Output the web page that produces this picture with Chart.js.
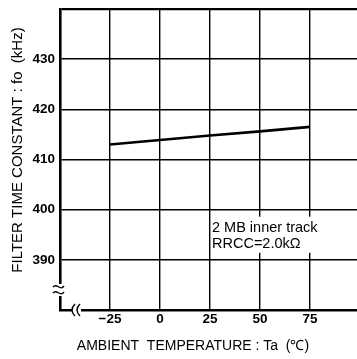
<!DOCTYPE html>
<html><head><meta charset="utf-8">
<script src="https://cdn.jsdelivr.net/npm/chart.js@4/dist/chart.umd.min.js"></script>
<style>html,body{margin:0;padding:0;background:#fff}#wrap{width:357px;height:359px}</style>
</head><body><div id="wrap"><canvas id="c" width="357" height="359"></canvas></div>
<script>
const temperatures = [-25, 0, 25, 50, 75];
const fcValues = [413.0, 413.9, 414.8, 415.6, 416.5];
const xTickValues = [-25, 0, 25, 50, 75];
const yTickValues = [390, 400, 410, 420, 430];
const noteLines = ['2 MB inner track', 'RRCC=2.0kΩ'];
const xTitle = 'AMBIENT  TEMPERATURE : Ta  (\u2103)';
const yTitle = 'FILTER TIME CONSTANT : fo  (kHz)';

const FONT = "'Liberation Sans', Arial, sans-serif";

const decor = {
  id: 'decor',
  afterDraw(chart) {
    const ctx = chart.ctx, x = chart.scales.x, y = chart.scales.y;
    const L = chart.chartArea.left, B = chart.chartArea.bottom;
    ctx.save();
    // white box behind annotation
    ctx.fillStyle = '#fff';
    const bx = x.getPixelForValue(25) + 2;
    ctx.fillRect(bx, y.getPixelForValue(398.6), 116, y.getPixelForValue(391.4) - y.getPixelForValue(398.6));
    // axis breaks
    ctx.fillRect(L - 3, 284, 6, 12);
    ctx.fillRect(72, B - 3, 9, 6);
    ctx.strokeStyle = '#000'; ctx.lineWidth = 1.4;
    for (const dy of [0, 6]) {
      ctx.beginPath();
      ctx.moveTo(L - 7, 287 + dy);
      ctx.bezierCurveTo(L - 3, 282 + dy, L + 0, 292 + dy, L + 4, 286 + dy);
      ctx.stroke();
    }
    for (const dx of [0, 5]) {
      ctx.beginPath();
      ctx.moveTo(75 + dx, B - 6);
      ctx.bezierCurveTo(71 + dx, B - 2, 71 + dx, B + 2, 75 + dx, B + 6);
      ctx.stroke();
    }
    // annotation
    ctx.fillStyle = '#000';
    ctx.font = '14.5px ' + FONT;
    ctx.textAlign = 'left'; ctx.textBaseline = 'middle';
    ctx.fillText(noteLines[0], bx, y.getPixelForValue(396.3));
    ctx.fillText(noteLines[1], bx, y.getPixelForValue(393.1));
    // titles
    ctx.font = '14px ' + FONT;
    ctx.textAlign = 'center';
    ctx.fillText(xTitle, 193, 346);
    ctx.translate(18, 150);
    ctx.rotate(-Math.PI / 2);
    ctx.font = '15px ' + FONT;
    ctx.fillText(yTitle, 0, 0);
    ctx.restore();
  }
};

new Chart(document.getElementById('c'), {
  type: 'line',
  data: {
    datasets: [{
      data: temperatures.map((t, i) => ({x: t, y: fcValues[i]})),
      borderColor: '#000', borderWidth: 2.6, pointRadius: 0, tension: 0, fill: false
    }]
  },
  options: {
    responsive: false, animation: false, devicePixelRatio: 1,
    layout: {padding: {top: 9, right: 0, left: 0, bottom: 0}},
    plugins: {legend: {display: false}, tooltip: {enabled: false}},
    scales: {
      x: {
        type: 'linear', min: -50, max: 98.5,
        afterBuildTicks(s) { s.ticks = [-50].concat(xTickValues).map(v => ({value: v})); },
        afterFit(s) { s.height = 49; s.paddingLeft = 0; s.paddingRight = 0; },
        grid: {color: '#000', lineWidth: 1.4, drawTicks: false},
        border: {color: '#000', width: 2.6},
        ticks: {
          padding: 1, color: '#000', font: {family: FONT, size: 13.5, weight: 'bold'},
          callback: v => xTickValues.includes(v) ? (v < 0 ? '\u2212' + Math.abs(v) : String(v)) : ''
        }
      },
      y: {
        type: 'linear', min: 380, max: 440,
        afterBuildTicks(s) { s.ticks = [380].concat(yTickValues, [440]).map(v => ({value: v})); },
        afterFit(s) { s.width = 60; s.paddingTop = 0; s.paddingBottom = 0; },
        grid: {color: '#000', lineWidth: c => c.tick && c.tick.value === 440 ? 2.2 : 1.4, drawTicks: false},
        border: {color: '#000', width: 2.6},
        ticks: {
          padding: 5, color: '#000', font: {family: FONT, size: 13.5, weight: 'bold'},
          callback: v => yTickValues.includes(v) ? String(v) : ''
        }
      }
    }
  },
  plugins: [decor]
});
</script></body></html>
